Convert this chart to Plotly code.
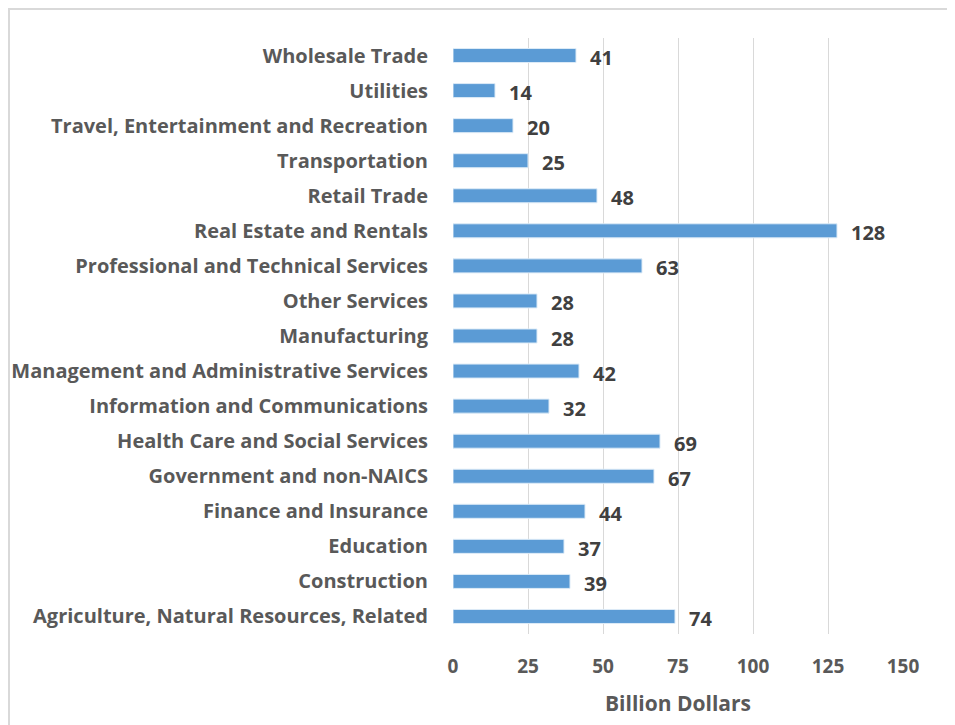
import plotly.graph_objects as go

categories = [
    "Wholesale Trade",
    "Utilities",
    "Travel, Entertainment and Recreation",
    "Transportation",
    "Retail Trade",
    "Real Estate and Rentals",
    "Professional and Technical Services",
    "Other Services",
    "Manufacturing",
    "Management and Administrative Services",
    "Information and Communications",
    "Health Care and Social Services",
    "Government and non-NAICS",
    "Finance and Insurance",
    "Education",
    "Construction",
    "Agriculture, Natural Resources, Related",
]
values = [41, 14, 20, 25, 48, 128, 63, 28, 28, 42, 32, 69, 67, 44, 37, 39, 74]
tick_vals = [0, 25, 50, 75, 100, 125, 150]
x_title = "Billion Dollars"

FONT = "Open Sans"
W, H = 947, 717
ML, MR, MT, MB = 445, 52, 30, 91
PW, PH = W - ML - MR, H - MT - MB

fig = go.Figure()
fig.add_trace(go.Bar(
    y=categories, x=values, orientation="h",
    marker=dict(color="#5B9BD5", line=dict(color="#DDEBF7", width=1)),
    hoverinfo="skip",
))
for c, v in zip(categories, values):
    fig.add_annotation(x=v, y=c, xref="x", yref="y", text=str(v), showarrow=False,
                       xanchor="left", xshift=12, yshift=-2,
                       font=dict(family=FONT, size=20, color="#404040", weight="bold"))

# outer chart frame
fig.add_shape(type="rect", xref="paper", yref="paper",
              x0=(-ML + 1) / PW, x1=(PW + MR + 20) / PW,
              y0=-(MB + 20) / PH, y1=(PH + MT - 1) / PH,
              line=dict(color="#D9D9D9", width=2), layer="below")

fig.update_layout(
    width=W, height=H,
    margin=dict(l=ML, r=MR, t=MT, b=MB, autoexpand=False),
    paper_bgcolor="white", plot_bgcolor="white",
    showlegend=False,
    bargap=0.6,
    font=dict(family=FONT, color="#595959"),
    xaxis=dict(range=[0, 150], tickvals=tick_vals, showgrid=True, gridcolor="#D9D9D9",
               gridwidth=1, zeroline=False, showline=False, automargin=False,
               tickfont=dict(family=FONT, size=19, color="#595959", weight="bold"),
               ticks="outside", ticklen=15, tickcolor="rgba(0,0,0,0)",
               title=dict(text=x_title, standoff=18,
                          font=dict(family=FONT, size=21, color="#595959", weight="bold"))),
    yaxis=dict(autorange="reversed", showgrid=False, zeroline=False, showline=False,
               automargin=False,
               ticks="outside", ticklen=20, tickcolor="rgba(0,0,0,0)",
               tickfont=dict(family=FONT, size=20, color="#595959", weight="bold")),
)
fig.write_html("out.html")
